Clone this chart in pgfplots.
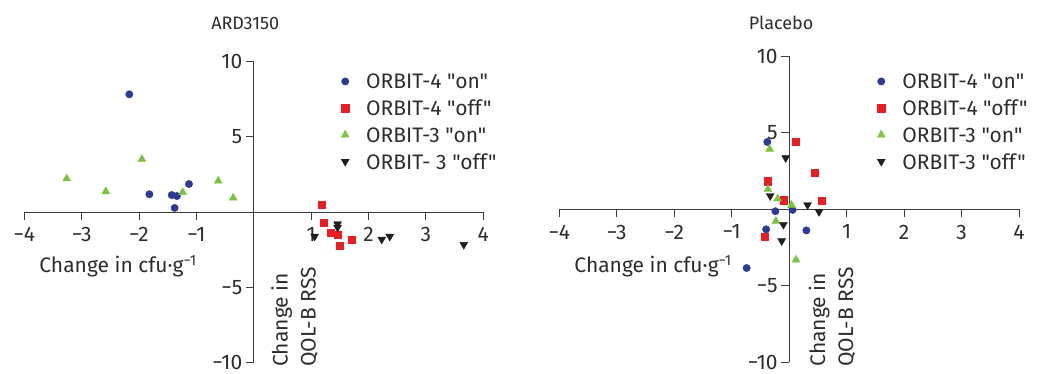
\documentclass[border=0pt]{standalone}
\usepackage{fontspec}
\setmainfont{Fira Sans}[Ligatures=TeXOff]
\usepackage{pgfplots}
\pgfplotsset{compat=1.18}
\definecolor{cblue}{RGB}{44,58,150}
\definecolor{cred}{RGB}{232,30,38}
\definecolor{cgreen}{RGB}{125,194,66}
\definecolor{cblack}{RGB}{30,30,30}
\definecolor{axisgray}{RGB}{60,60,60}
\definecolor{textgray}{RGB}{45,45,45}
\newcommand{\bigf}{\fontsize{21}{28}\selectfont}
\pgfplotsset{
  myax/.style={
    axis lines=middle,
    axis line style={-,draw=axisgray,line width=0.9pt},
    xmin=-4,xmax=4,ymin=-10,ymax=10,
    xtick={-4,-3,-2,-1,1,2,3,4},
    xticklabels={−4,−3,−2,−1,1,2,3,4},
    ytick={-10,-5,5,10},
    yticklabels={−10,−5,5,10},
    tick align=outside,
    major tick length=8pt,
    tick style={draw=axisgray,line width=0.9pt},
    ticklabel style={font=\bigf, text=textgray},
    xticklabel style={yshift=-4pt},
    scale only axis, clip=false,
    legend cell align=left,
    legend image code/.code={
      \path[draw=none] (0pt,0pt) (25pt,0pt);
      \draw[##1, only marks, mark repeat=1] plot coordinates {(4pt,2pt)};
    },
    legend style={draw=none, fill=none, inner sep=0pt, font=\bigf, text=textgray,
      nodes={inner sep=0pt, text height=15pt, text depth=4pt}, row sep=7.7pt, column sep=0pt},
  },
  sblue/.style={only marks, mark=*, mark size=3.7pt, color=cblue},
  sred/.style={only marks, mark=square*, mark size=3.6pt, color=cred},
  sgreen/.style={only marks, mark=triangle*, mark size=4.6pt, color=cgreen},
  sblack/.style={only marks, mark=triangle*, mark size=4.6pt, color=cblack, mark options={rotate=180}},
}
\begin{document}
\begin{tikzpicture}
\useasboundingbox (0,0) rectangle (1037pt,374pt);
% Left panel
\begin{axis}[myax, at={(24.3pt,11.7pt)}, anchor=south west, width=459pt, height=300.6pt,
  legend style={at={(axis cs:1.52,9.2)}, anchor=north west}]
\addplot[sblue] coordinates {(-2.17,7.83) (-1.82,1.18) (-1.43,1.13) (-1.34,1.06) (-1.38,0.27) (-1.13,1.86)};
\addlegendentry{ORBIT-4 "on"}
\addplot[sred] coordinates {(1.18,0.48) (1.22,-0.71) (1.34,-1.36) (1.46,-1.51) (1.71,-1.85) (1.50,-2.24)};
\addlegendentry{ORBIT-4 "off"}
\addplot[sgreen] coordinates {(-3.26,2.22) (-2.58,1.36) (-1.95,3.51) (-1.24,1.31) (-0.62,2.07) (-0.36,0.94)};
\addlegendentry{ORBIT-3 "on"}
\addplot[sblack] coordinates {(1.06,-1.62) (1.46,-0.80) (1.46,-1.03) (2.23,-1.82) (2.37,-1.63) (3.66,-2.17)};
\addlegendentry{ORBIT- 3 "off"}
\node[anchor=base, font=\fontsize{18}{22}\selectfont, text=textgray] at (axis cs:-0.15,12.16) {ARD3150};
\node[anchor=base west, font=\bigf, text=textgray, inner sep=0pt] at (axis cs:-3.74,-4.04) {Change in cfu·g\textsuperscript{−1}};
\node[rotate=90, anchor=north west, align=left, font=\bigf, text=textgray, inner sep=0pt] at (axis cs:0.30,-10.3) {Change in\\QOL-B RSS};
\end{axis}
% Right panel
\begin{axis}[myax, at={(559.3pt,11.7pt)}, anchor=south west, width=459.7pt, height=306pt,
  legend style={at={(axis cs:1.53,8.86)}, anchor=north west}]
\addplot[sblue] coordinates {(-0.38,4.40) (-0.24,-0.13) (0.06,-0.04) (-0.40,-1.31) (0.30,-1.38) (-0.74,-3.84)};
\addlegendentry{ORBIT-4 "on"}
\addplot[sred] coordinates {(0.12,4.40) (0.44,2.39) (-0.37,1.83) (-0.09,0.60) (0.56,0.54) (-0.42,-1.79)};
\addlegendentry{ORBIT-4 "off"}
\addplot[sgreen] coordinates {(-0.34,3.94) (-0.37,1.30) (-0.20,0.69) (0.04,0.28) (-0.23,-0.77) (0.12,-3.31)};
\addlegendentry{ORBIT-3 "on"}
\addplot[sblack] coordinates {(-0.06,3.36) (-0.33,0.88) (0.32,0.28) (0.52,-0.16) (-0.10,-1.00) (-0.13,-2.07)};
\addlegendentry{ORBIT-3 "off"}
\node[anchor=base, font=\fontsize{18}{22}\selectfont, text=textgray] at (axis cs:-0.14,11.76) {Placebo};
\node[anchor=base west, font=\bigf, text=textgray, inner sep=0pt] at (axis cs:-3.74,-4.14) {Change in cfu·g\textsuperscript{−1}};
\node[rotate=90, anchor=north west, align=left, font=\bigf, text=textgray, inner sep=0pt] at (axis cs:0.336,-10.29) {Change in\\QOL-B RSS};
\end{axis}
\end{tikzpicture}
\end{document}
